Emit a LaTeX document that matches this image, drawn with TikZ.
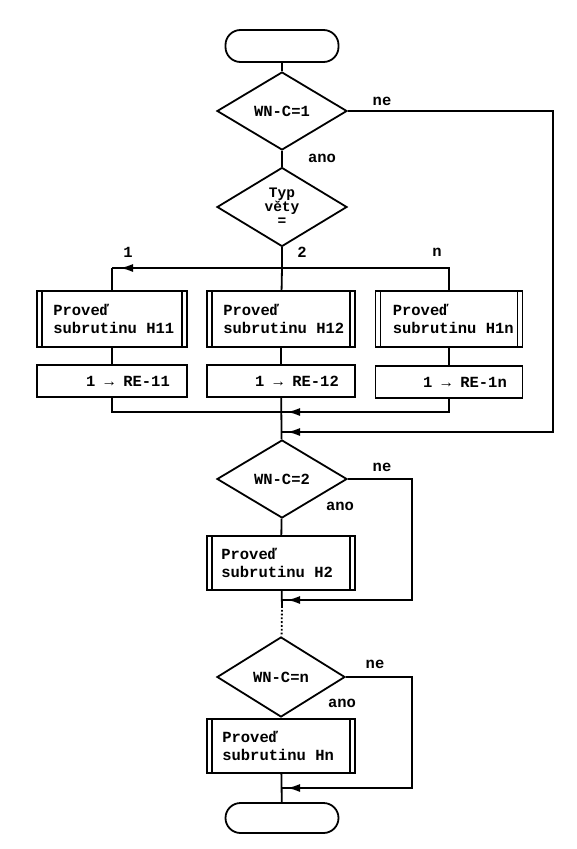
\documentclass[tikz,border=0pt]{standalone}
\usepackage{fontspec}
\setmainfont{Liberation Mono}
\usetikzlibrary{shapes.geometric,arrows.meta,decorations.markings}
\tikzset{
  every node/.style={font=\bfseries\fontsize{15.5}{18}\selectfont},
  ln/.style={line width=1.8pt},
  term/.style={draw,ln,rounded corners=15pt,minimum width=113pt,minimum height=32pt,inner sep=0pt},
  dec/.style={draw,ln,diamond,minimum width=130pt,minimum height=78pt,inner sep=0pt,align=center},
  proc/.style={draw,ln,rectangle,minimum width=148pt,minimum height=56pt,inner sep=0pt,
    path picture={\draw[line width=1.3pt] ([xshift=5pt]path picture bounding box.north west) -- ([xshift=5pt]path picture bounding box.south west);
                  \draw[line width=1.3pt] ([xshift=-5pt]path picture bounding box.north east) -- ([xshift=-5pt]path picture bounding box.south east);}},
  ptext/.style={anchor=west,align=left,inner sep=0pt},
  asg/.style={draw,ln,rectangle,minimum width=148pt,minimum height=32pt,inner sep=0pt},
  lab/.style={inner sep=0pt},
  midarr/.style={decoration={markings,mark=at position #1 with {\arrow{Latex[length=13pt,width=8pt]}}},postaction={decorate}},
}
\begin{document}
\begin{tikzpicture}[x=1pt,y=-1pt]
\useasboundingbox (0,0) rectangle (577,849);
% nodes
\node[term] (start) at (282,46) {};
\node[dec] (d1) at (282,111) {WN-C=1};
\node[dec,minimum height=79pt] (d2) at (282,207) {};
\node[lab,align=center,font=\bfseries\fontsize{14.5}{14}\selectfont] (t2) at (282,207) {Typ\\věty\\=};
\node[proc,minimum width=150pt] (h11) at (112,319) {};
\node[proc] (h12) at (281,319) {};
\node[proc,minimum width=147pt] (h1n) at (449,319) {};
\node[ptext] (p11) at ([xshift=17pt]h11.west) {Proveď\\subrutinu H11};
\node[ptext] (p12) at ([xshift=17pt]h12.west) {Proveď\\subrutinu H12};
\node[ptext] (p1n) at ([xshift=18pt]h1n.west) {Proveď\\subrutinu H1n};
\node[asg,minimum width=150pt] (r11) at (112,381) {};
\node[asg] (r12) at (281,381) {};
\node[asg,minimum width=147pt] (r1n) at (449,382) {};
\node[lab] (t11) at (128,381) {1 → RE-11};
\node[lab] (t12) at (297,381) {1 → RE-12};
\node[lab] (t1n) at (465,382) {1 → RE-1n};
\node[dec] (d3) at (282,479) {WN-C=2};
\node[proc,minimum height=54pt] (h2) at (281,563) {};
\node[ptext] (p2) at ([xshift=15pt]h2.west) {Proveď\\subrutinu H2};
\node[dec,minimum width=128pt,minimum height=80pt] (d4) at (281,677) {WN-C=n};
\node[proc,minimum height=54pt] (hn) at (281,746) {};
\node[ptext] (pn) at ([xshift=16pt]hn.west) {Proveď\\subrutinu Hn};
\node[term,minimum height=30pt] (end) at (282,818) {};
% labels
\node[lab] (ne1) at (382,101) {ne};
\node[lab] (ano1) at (322,158) {ano};
\node[lab] (l1) at (128,252) {1};
\node[lab] (l2) at (302,252) {2};
\node[lab] (ln) at (437,252) {n};
\node[lab] (ne2) at (382,467) {ne};
\node[lab] (ano2) at (340,506) {ano};
\node[lab] (ne3) at (375,664) {ne};
\node[lab] (ano3) at (342,703) {ano};
% coordinates
\coordinate (j0) at (282,268);
\coordinate (c11) at (112,268);
\coordinate (c1n) at (449,268);
\coordinate (j1) at (282,412);
\coordinate (j2) at (282,432);
\coordinate (b11) at (112,412);
\coordinate (b1n) at (449,412);
\coordinate (ne1a) at (553,111);
\coordinate (ne1b) at (553,432);
\coordinate (ne2a) at (412,479);
\coordinate (ne2b) at (412,600);
\coordinate (j3) at (282,600);
\coordinate (dt) at (282,606);
\coordinate (ne3a) at (412,677);
\coordinate (ne3b) at (412,788);
\coordinate (j4) at (282,788);
% connectors
\draw[ln] (start) -- (d1);
\draw[ln] (d1) -- (d2);
\draw[ln] (d2) -- (j0);
\draw[ln,midarr=-8pt] (j0) -- (c11);
\draw[ln] (c11) -- (h11);
\draw[ln] (j0) -- (h12);
\draw[ln] (j0) -- (c1n) -- (h1n);
\draw[ln] (h11) -- (r11);
\draw[ln] (h12) -- (r12);
\draw[ln] (h1n) -- (r1n);
\draw[ln] (r11) -- (b11) -- (j1);
\draw[ln,midarr=-5pt] (r1n) -- (b1n) -- (j1);
\draw[ln] (r12) -- (d3);
\draw[ln,midarr=-5pt] (d1.east) -- (ne1a) -- (ne1b) -- (j2);
\draw[ln] (d3) -- (h2);
\draw[ln,midarr=-5pt] (d3.east) -- (ne2a) -- (ne2b) -- (j3);
\draw[ln] (h2) -- (dt);
\draw[ln,dotted,line width=1.8pt] (dt) -- (d4);
\draw[ln,midarr=-5pt] (d4.east) -- (ne3a) -- (ne3b) -- (j4);
\draw[ln] (d4) -- (hn);
\draw[ln] (hn) -- (end);
\end{tikzpicture}
\end{document}
